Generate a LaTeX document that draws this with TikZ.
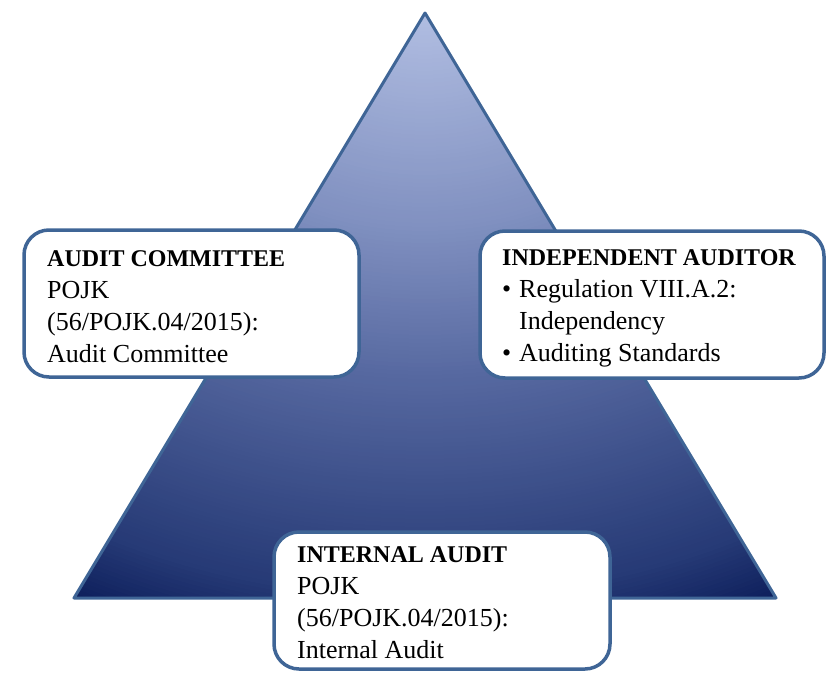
\documentclass[tikz,border=0pt]{standalone}
\usepackage{fontspec}
\setmainfont{Liberation Serif}
\usetikzlibrary{positioning,calc}

\definecolor{edgeblue}{HTML}{3F6596}
\definecolor{pyrtop}{HTML}{BAC6E8}
\definecolor{pyrhigh}{HTML}{8090C0}
\definecolor{pyrmid}{HTML}{5668A0}
\definecolor{pyrlow}{HTML}{263A76}
\definecolor{pyrbase}{HTML}{0A1B58}

\newcommand{\bul}{\makebox[17pt][l]{\textbullet}}

\begin{document}
\begin{tikzpicture}[x=1pt,y=-1pt,
  box/.style={draw=edgeblue, line width=3.5pt, fill=white, rounded corners=25pt,
    anchor=north west, inner sep=0pt, outer sep=0pt},
  boxtext/.style={anchor=north west, align=left, inner sep=0pt,
    font=\fontsize{26}{32}\selectfont}]
\useasboundingbox (0,0) rectangle (828,673);

% the pyramid
\coordinate (apex) at (425,13);
\coordinate (baseL) at (74,598);
\coordinate (baseR) at (776,598);
\coordinate (glow) at (425,-25);

% fill: rings round a point above the apex, dark at the base corners
\begin{scope}
\clip (apex) -- (baseL) -- (baseR) -- cycle;
\foreach \r in {700,696,...,624} {
  \pgfmathsetmacro\p{(\r-623)/77*100}
  \fill[pyrbase!\p!pyrlow] (glow) ellipse [x radius=1.19*\r, y radius=\r];
}
\foreach \r in {620,616,...,408} {
  \pgfmathsetmacro\p{(\r-405)/218*100}
  \fill[pyrlow!\p!pyrmid] (glow) ellipse [x radius=1.19*\r, y radius=\r];
}
\foreach \r in {404,400,...,256} {
  \pgfmathsetmacro\p{(\r-255)/150*100}
  \fill[pyrmid!\p!pyrhigh] (glow) ellipse [x radius=1.19*\r, y radius=\r];
}
\foreach \r in {252,248,...,4} {
  \pgfmathsetmacro\p{\r/255*100}
  \fill[pyrhigh!\p!pyrtop] (glow) ellipse [x radius=1.19*\r, y radius=\r];
}
\end{scope}
\draw[edgeblue, line width=3pt, line join=round] (apex) -- (baseL) -- (baseR) -- cycle;

% the three boxes
\node[box, minimum width=335pt, minimum height=147pt] (committee) at (24,230) {};
\node[box, minimum width=344pt, minimum height=147pt] (auditor) at (480,231) {};
\node[box, minimum width=336pt, minimum height=137pt] (internal) at (274,532) {};

\node[boxtext] (committeetxt) at ([shift={(23,20)}]committee.north west)
  {{\fontsize{24}{32}\selectfont\bfseries AUDIT COMMITTEE}\\
   POJK\\
   (56/POJK.04/2015):\\
   Audit Committee};
\node[boxtext] (auditortxt) at ([shift={(22,18)}]auditor.north west)
  {{\fontsize{24}{32}\selectfont\bfseries INDEPENDENT AUDITOR}\\
   \bul Regulation VIII.A.2:\\
   \hspace*{17pt}Independency\\
   \bul Auditing Standards};
\node[boxtext] (internaltxt) at ([shift={(23,14)}]internal.north west)
  {{\fontsize{24}{32}\selectfont\bfseries INTERNAL AUDIT}\\
   POJK\\
   (56/POJK.04/2015):\\
   Internal Audit};
\end{tikzpicture}
\end{document}
